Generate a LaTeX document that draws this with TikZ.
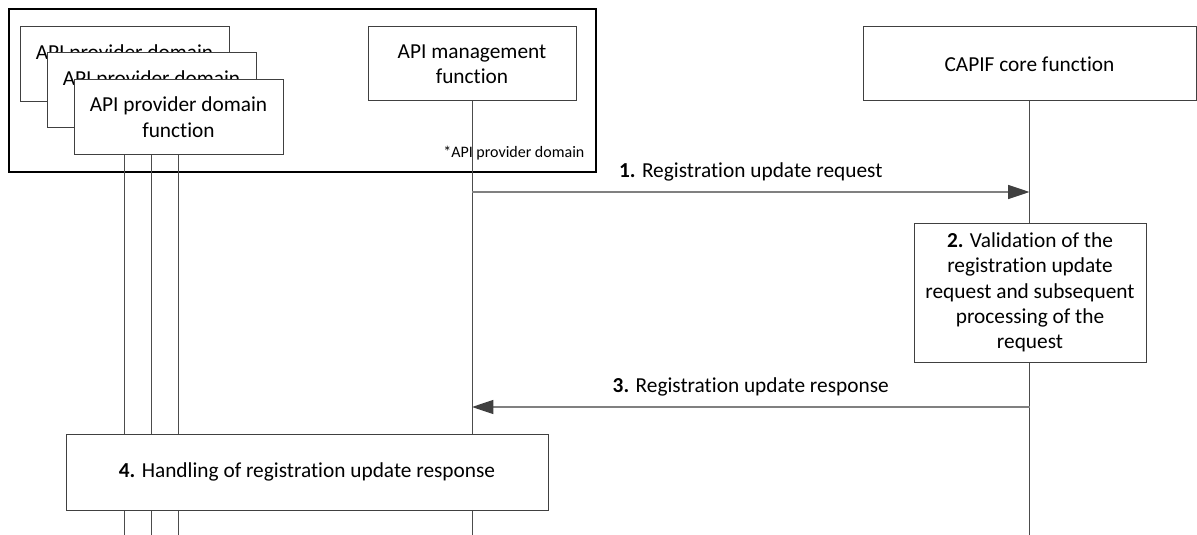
\documentclass[tikz,border=0pt]{standalone}
\usepackage{fontspec}
\setmainfont{Carlito}[Ligatures=NoCommon]
\usetikzlibrary{positioning, arrows.meta}

\begin{document}
\begin{tikzpicture}[
		x=0.75pt, y=-0.75pt,
		entity/.style={
			rectangle,
			draw=black!75,
			line width=0.75pt,
			fill=white,
			inner sep=0pt,
			outer sep=0pt,
			align=center,
			font=\fontsize{16}{19}\selectfont
		},
		provider/.style={
			entity,
			minimum width=156.75pt,
			minimum height=56.25pt
		},
		lifeline/.style={
			draw=black!70,
			line width=0.75pt
		},
		msg/.style={
			draw=black!50,
			line width=0.9pt,
			-{Triangle[length=16pt, width=10.5pt, color=black!75]}
		},
		msglabel/.style={
			font=\fontsize{16}{19}\selectfont,
			above=4pt
		}
		]
		\useasboundingbox (0,0) rectangle (1197,535);
		% Domain frame
		\node[draw=black, line width=1.6pt, inner sep=0pt,
		minimum width=440.25pt, minimum height=122.25pt]
		(dom) at (302.5,90.5) {};
		\node[font=\fontsize{12}{14}\selectfont, anchor=east]
		(domlbl) at ([xshift=-6pt, yshift=15pt]dom.south east)
		{*API provider domain};
		% Entities
		\node[provider] (apf1) at (124.5,64.5)
		{API provider domain\\function};
		\node[provider] (apf2) at ([xshift=20.25pt, yshift=-19.5pt]apf1.center)
		{API provider domain\\function};
		\node[provider] (apf3) at ([xshift=20.25pt, yshift=-20pt]apf2.center)
		{API provider domain\\function};
		\node[entity, minimum width=156pt, minimum height=55.5pt]
		(amf) at (472,64)
		{API management\\function};
		\node[entity, minimum width=249.75pt, minimum height=55.5pt]
		(ccf) at (1029.5,64)
		{CAPIF core function};
		% Lifelines
		\coordinate (bottom) at (0,536);
		\coordinate (y1) at (0,192);
		\coordinate (y3) at (0,407);
		\draw[lifeline] (apf1 |- apf3.south) -- (apf1 |- bottom);
		\draw[lifeline] (apf2 |- apf3.south) -- (apf2 |- bottom);
		\draw[lifeline] (apf3.south) -- (apf3 |- bottom);
		\draw[lifeline] (amf.south) -- (amf |- bottom);
		\draw[lifeline] (ccf.south) -- (ccf |- bottom);
		% Messages
		\draw[msg] (amf |- y1) -- node[msglabel]
		{\textbf{1.} Registration update request} (ccf |- y1);
		\node[entity, minimum width=174pt, minimum height=104.25pt]
		(valid) at (1030,292.5)
		{\textbf{2.} Validation of the\\registration update\\request and subsequent\\processing of the\\request};
		\draw[msg] (ccf |- y3) -- node[msglabel]
		{\textbf{3.} Registration update response} (amf |- y3);
		\node[entity, minimum width=361.5pt, minimum height=57pt]
		(handle) at (307,472)
		{\textbf{4.} Handling of registration update response};
	\end{tikzpicture}
\end{document}
